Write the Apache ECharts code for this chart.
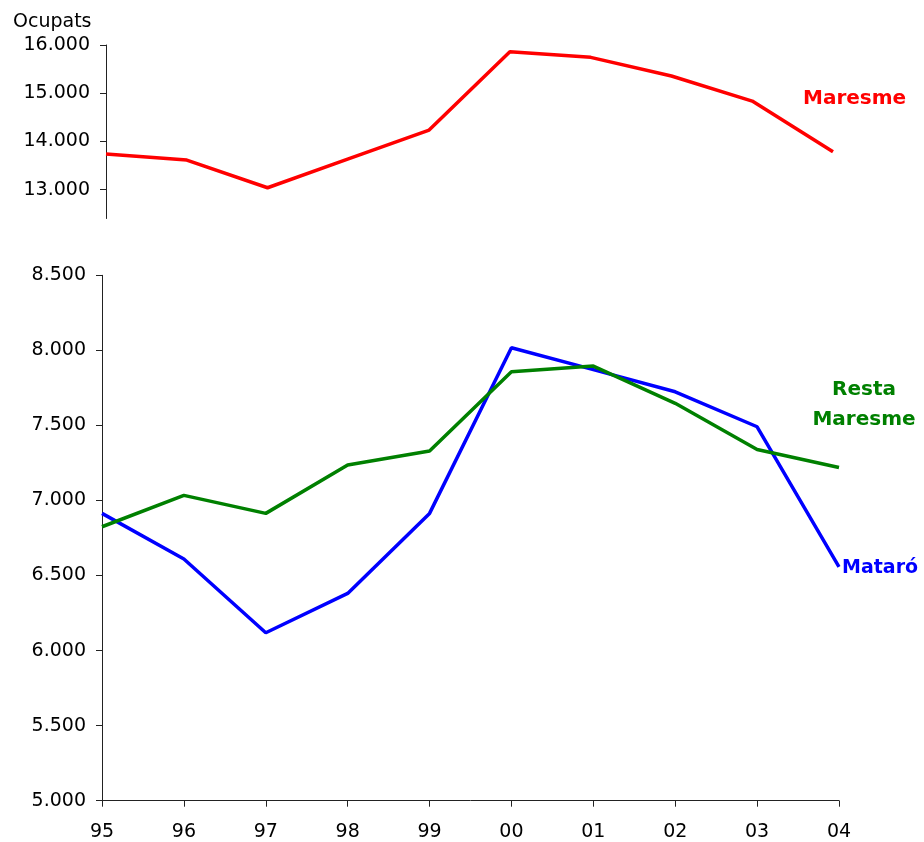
<!DOCTYPE html>
<html>
<head>
<meta charset="utf-8">
<title>Ocupats Maresme</title>
<script src="https://cdn.jsdelivr.net/npm/echarts@6/dist/echarts.min.js"></script>
<style>
  html, body { margin: 0; padding: 0; background: #fff; }
  #chart { width: 924px; height: 842px; }
</style>
</head>
<body>
<div id="chart"></div>
<script>
// anys (eix X)
const years = ['95', '96', '97', '98', '99', '00', '01', '02', '03', '04'];

// ocupats
const maresme = [13737, 13613, 13038, 13638, 14235, 15861, 15744, 15357, 14837, 13785];
const mataro = [6914, 6610, 6119, 6381, 6914, 8017, 7872, 7724, 7491, 6558];
const restaMaresme = [6825, 7034, 6914, 7236, 7329, 7857, 7895, 7647, 7340, 7220];

// marques dels eixos Y
const topTicks = [13000, 14000, 15000, 16000];
const bottomTicks = [5000, 5500, 6000, 6500, 7000, 7500, 8000, 8500];

const FONT = 'DejaVu Sans';
const fmt = v => String(v).replace(/\B(?=(\d{3})+(?!\d))/g, '.');

const chart = echarts.init(document.getElementById('chart'));

const axisLine = { show: true, lineStyle: { color: '#222', width: 1 } };
const axisTick = { show: true, inside: false, length: 6, lineStyle: { color: '#222' } };
const axisLabel = { color: '#000', fontFamily: FONT, fontSize: 19 };

chart.setOption({
  animation: false,
  backgroundColor: '#fff',
  grid: [
    { left: 106, right: 91, top: 45, height: 173.5 },
    { left: 102, right: 85, top: 275.3, height: 525.4 }
  ],
  graphic: [
    {
      type: 'text', left: 13, top: 13,
      style: { text: 'Ocupats', fill: '#000', font: '19px "DejaVu Sans"' }
    }
  ],
  xAxis: [
    {
      gridIndex: 0, type: 'category', data: years, boundaryGap: false, show: false
    },
    {
      gridIndex: 1, type: 'category', data: years, boundaryGap: false,
      axisLine: axisLine,
      axisTick: Object.assign({ alignWithLabel: true }, axisTick),
      axisLabel: Object.assign({ margin: 22, interval: 0 }, axisLabel),
      splitLine: { show: false }
    }
  ],
  yAxis: [
    {
      gridIndex: 0, type: 'value', min: 12400, max: 16000,
      axisLine: axisLine,
      axisTick: Object.assign({ customValues: topTicks }, axisTick),
      axisLabel: Object.assign({ customValues: topTicks, margin: 16, formatter: fmt }, axisLabel),
      splitLine: { show: false }
    },
    {
      gridIndex: 1, type: 'value', min: 5000, max: 8500, interval: 500,
      axisLine: axisLine,
      axisTick: Object.assign({ customValues: bottomTicks }, axisTick),
      axisLabel: Object.assign({ customValues: bottomTicks, margin: 16, formatter: fmt }, axisLabel),
      splitLine: { show: false }
    }
  ],
  series: [
    {
      name: 'Maresme', type: 'line', xAxisIndex: 0, yAxisIndex: 0,
      data: maresme, symbol: 'none',
      lineStyle: { color: '#ff0000', width: 3.5 },
      endLabel: {
        show: true, formatter: 'Maresme', color: '#ff0000',
        fontFamily: FONT, fontWeight: 'bold', fontSize: 20,
        distance: 0, align: 'left', verticalAlign: 'middle', offset: [-30, -53]
      }
    },
    {
      name: 'Mataró', type: 'line', xAxisIndex: 1, yAxisIndex: 1,
      data: mataro, symbol: 'none',
      lineStyle: { color: '#0000ff', width: 3.5 },
      endLabel: {
        show: true, formatter: 'Mataró', color: '#0000ff',
        fontFamily: FONT, fontWeight: 'bold', fontSize: 19,
        distance: 3, align: 'left', verticalAlign: 'middle', offset: [0, 1]
      }
    },
    {
      name: 'Resta Maresme', type: 'line', xAxisIndex: 1, yAxisIndex: 1,
      data: restaMaresme, symbol: 'none',
      lineStyle: { color: '#008000', width: 3.5 },
      endLabel: {
        show: true, formatter: 'Resta\nMaresme', color: '#008000',
        fontFamily: FONT, fontWeight: 'bold', fontSize: 20, lineHeight: 30,
        distance: 0, align: 'center', verticalAlign: 'middle', offset: [25, -63]
      }
    }
  ]
});
</script>
</body>
</html>
